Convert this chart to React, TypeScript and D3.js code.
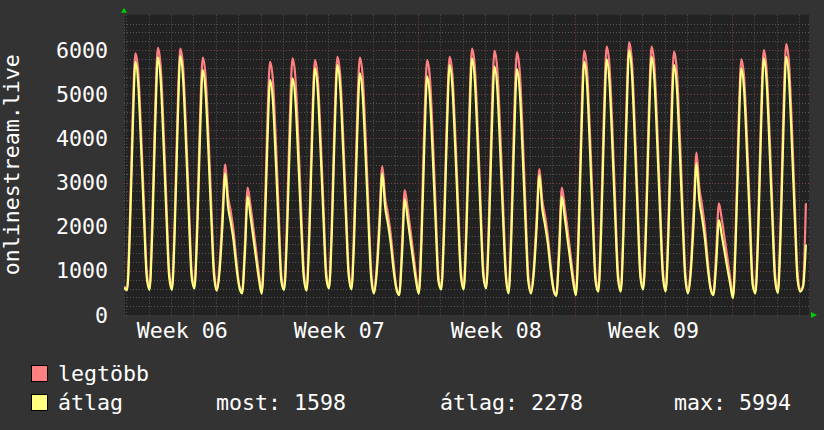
import React from 'react';
import * as d3 from 'd3';

// samples every 3 hours, first one at Feb 5 22:00 (one row per day: 01h..22h)
const firstSample = new Date(2024, 1, 5, 22);
const stepHours = 3;

const legtobb = [
  650,
  590, 2140, 4490, 5925, 5500, 4160, 2560, 1020,
  600, 2180, 4580, 6052, 5620, 4250, 2620, 1030,
  600, 2170, 4560, 6030, 5600, 4240, 2610, 1030,
  630, 2140, 4420, 5826, 5410, 4110, 2550, 1050,
  580, 1150, 2280, 3412, 2700, 2340, 1880, 1230,
  670, 520, 1580, 2883, 2480, 1990, 1470, 950,
  510, 2020, 4320, 5735, 5320, 4010, 2440, 920,
  600, 2110, 4400, 5811, 5390, 4090, 2530, 1010,
  580, 2090, 4370, 5773, 5360, 4060, 2500, 1000,
  630, 2140, 4440, 5848, 5430, 4130, 2560, 1050,
  610, 2120, 4420, 5826, 5410, 4110, 2540, 1030,
  520, 1090, 2230, 3373, 2660, 2290, 1830, 1180,
  630, 480, 1540, 2830, 2430, 1940, 1420, 910,
  510, 2030, 4350, 5773, 5350, 4040, 2450, 930,
  610, 2130, 4430, 5848, 5430, 4120, 2550, 1030,
  610, 2180, 4570, 6030, 5600, 4240, 2620, 1040,
  630, 2180, 4540, 5984, 5560, 4220, 2610, 1060,
  520, 2090, 4480, 5947, 5510, 4160, 2530, 950,
  520, 1080, 2190, 3305, 2610, 2250, 1800, 1160,
  610, 460, 1550, 2883, 2470, 1960, 1430, 900,
  480, 2080, 4500, 5984, 5540, 4170, 2520, 920,
  560, 2160, 4590, 6075, 5630, 4250, 2600, 1000,
  560, 2190, 4660, 6173, 5720, 4320, 2640, 1010,
  610, 2200, 4600, 6075, 5640, 4270, 2630, 1050,
  560, 2130, 4500, 5962, 5530, 4180, 2560, 990,
  520, 1150, 2410, 3675, 2890, 2480, 1970, 1250,
  630, 480, 1400, 2529, 2180, 1750, 1300, 850,
  410, 1970, 4340, 5788, 5360, 4010, 2400, 840,
  520, 2110, 4520, 6000, 5560, 4190, 2550, 960,
  530, 2160, 4620, 6136, 5690, 4290, 2600, 980,
  560, 680, 2530,
];

const atlag = [
  620,
  560, 1850, 4130, 5735, 5220, 3820, 2270, 870,
  570, 1880, 4200, 5834, 5310, 3890, 2300, 880,
  570, 1890, 4220, 5864, 5330, 3900, 2310, 880,
  600, 1840, 4010, 5547, 5050, 3720, 2230, 900,
  550, 1000, 2010, 3208, 2460, 2090, 1670, 1080,
  640, 490, 1370, 2679, 2240, 1760, 1280, 820,
  480, 1690, 3820, 5320, 4840, 3530, 2070, 770,
  570, 1760, 3870, 5358, 4880, 3590, 2150, 850,
  550, 1810, 4020, 5585, 5080, 3720, 2210, 850,
  600, 1870, 4090, 5660, 5150, 3790, 2270, 900,
  580, 1800, 3960, 5472, 4980, 3660, 2190, 870,
  490, 950, 1990, 3208, 2450, 2070, 1630, 1030,
  600, 450, 1320, 2626, 2190, 1710, 1240, 780,
  480, 1710, 3870, 5396, 4900, 3580, 2100, 770,
  580, 1850, 4090, 5660, 5150, 3780, 2260, 890,
  580, 1890, 4190, 5811, 5290, 3880, 2310, 890,
  600, 1860, 4070, 5622, 5120, 3760, 2260, 900,
  490, 1760, 3990, 5562, 5060, 3690, 2160, 790,
  490, 950, 1960, 3170, 2420, 2040, 1620, 1030,
  580, 430, 1330, 2679, 2230, 1730, 1240, 770,
  450, 1770, 4100, 5735, 5210, 3780, 2200, 770,
  530, 1840, 4160, 5788, 5260, 3840, 2260, 840,
  530, 1900, 4300, 5994, 5450, 3970, 2330, 860,
  580, 1900, 4220, 5848, 5320, 3900, 2320, 900,
  530, 1810, 4070, 5660, 5150, 3760, 2220, 840,
  490, 990, 2110, 3434, 2610, 2200, 1730, 1080,
  600, 450, 1130, 2151, 1810, 1440, 1060, 710,
  380, 1680, 3970, 5585, 5060, 3660, 2100, 690,
  490, 1820, 4160, 5811, 5280, 3840, 2250, 810,
  500, 1840, 4190, 5848, 5310, 3870, 2270, 820,
  530, 640, 1598,
];

const yTicks = [0, 1000, 2000, 3000, 4000, 5000, 6000];
const yTitle = 'onlinestream.live';
const legendNames = ['legtöbb', 'átlag'];
const legendColors = ['#ff8080', '#ffff80'];
const statLabels = ['most: 1598', 'átlag: 2278', 'max: 5994'];

const W = 824;
const H = 430;
const left = 124;
const right = 809;
const top = 14.7;
const bottom = 315;
const font = '"DejaVu Sans Mono", monospace';
const fs = 21.6;

const App: React.FC = () => {
  const x = d3.scaleTime()
    .domain([new Date(2024, 1, 5, 21, 45), new Date(2024, 2, 7, 10, 20)])
    .range([left, right]);
  const y = d3.scaleLinear().domain([0, 6800]).range([bottom, top]);

  const timeOf = (i: number) => new Date(firstSample.getTime() + i * stepHours * 3600e3);
  const line = d3.line<number>()
    .x((_, i) => x(timeOf(i)))
    .y(d => y(d))
    .curve(d3.curveMonotoneX);

  const [t0, t1] = x.domain();
  const days = d3.timeDay.range(t0, t1);
  const mondays = d3.timeMonday.range(d3.timeMonday.floor(t0), t1);
  const weekLabels = mondays
    .map(m => ({ m, c: d3.timeHour.offset(m, 84) }))
    .filter(d => d.c < t1);
  const minorY = d3.range(200, 6800, 200).filter(v => v % 1000 !== 0);
  const majorY = yTicks.filter(v => v > 0);
  const fmtWeek = d3.timeFormat('Week %V');

  return (
    <svg width={W} height={H} style={{ position: 'fixed', left: 0, top: 0 }}
      fontFamily={font}>
      <rect width={W} height={H} fill="#333333" />
      <rect x={left} y={top} width={right - left} height={bottom - top} fill="#222222" />
      <defs>
        <clipPath id="plot">
          <rect x={left} y={top} width={right - left} height={bottom - top} />
        </clipPath>
      </defs>

      {/* grid */}
      <g strokeWidth={1} strokeDasharray="1,2">
        {minorY.map(v => (
          <line key={'my' + v} x1={left} x2={right} y1={Math.round(y(v)) + 0.5} y2={Math.round(y(v)) + 0.5}
            stroke="#555555" />
        ))}
        {days.filter(d => d.getDay() !== 1).map(d => (
          <line key={'md' + +d} x1={Math.round(x(d)) + 0.5} x2={Math.round(x(d)) + 0.5} y1={top} y2={bottom + 3}
            stroke="#555555" />
        ))}
        <line x1={left + 0.5} x2={left + 0.5} y1={top} y2={bottom + 3} stroke="#555555" />
        {majorY.map(v => (
          <line key={'My' + v} x1={left} x2={right} y1={Math.round(y(v)) + 0.5} y2={Math.round(y(v)) + 0.5}
            stroke="#80403f" />
        ))}
        {mondays.filter(d => d >= t0).map(d => (
          <line key={'Md' + +d} x1={Math.round(x(d)) + 0.5} x2={Math.round(x(d)) + 0.5} y1={top} y2={bottom + 3}
            stroke="#80403f" />
        ))}
      </g>

      {/* series */}
      <g clipPath="url(#plot)" fill="none" strokeWidth={2.2} strokeLinejoin="round">
        <path d={line(legtobb) || ''} stroke={legendColors[0]} />
        <path d={line(atlag) || ''} stroke={legendColors[1]} />
      </g>

      {/* arrows */}
      <path d={`M${left - 3},${top - 2} L${left + 3},${top - 2} L${left},${top - 7} Z`} fill="#00cc00" />
      <path d={`M${right + 2},${bottom - 3} L${right + 2},${bottom + 3} L${right + 8},${bottom} Z`} fill="#00cc00" />

      {/* y labels */}
      {yTicks.map(v => (
        <text key={'yl' + v} x={108} y={y(v) + 7.5} textAnchor="end" fill="#ffffff" fontSize={fs}>{v}</text>
      ))}
      <text transform={`translate(19,${(top + bottom) / 2}) rotate(-90)`} textAnchor="middle"
        fill="#ffffff" fontSize={fs}>{yTitle}</text>

      {/* x labels */}
      {weekLabels.map(d => (
        <text key={'wl' + +d.m} x={x(d.c)} y={338} textAnchor="middle" fill="#ffffff" fontSize={fs}>
          {fmtWeek(d.m)}
        </text>
      ))}

      {/* legend */}
      {legendNames.map((n, i) => (
        <g key={n}>
          <rect x={31.5} y={366 + i * 29 - 0.5} width={16} height={16} fill={legendColors[i]} stroke="#000000" />
          <text x={58} y={381 + i * 29} fill="#ffffff" fontSize={fs}>{n}</text>
        </g>
      ))}
      {statLabels.map((s, i) => (
        <text key={s} x={[216, 440, 674][i]} y={410} fill="#ffffff" fontSize={fs}>{s}</text>
      ))}
    </svg>
  );
};

export default App;
